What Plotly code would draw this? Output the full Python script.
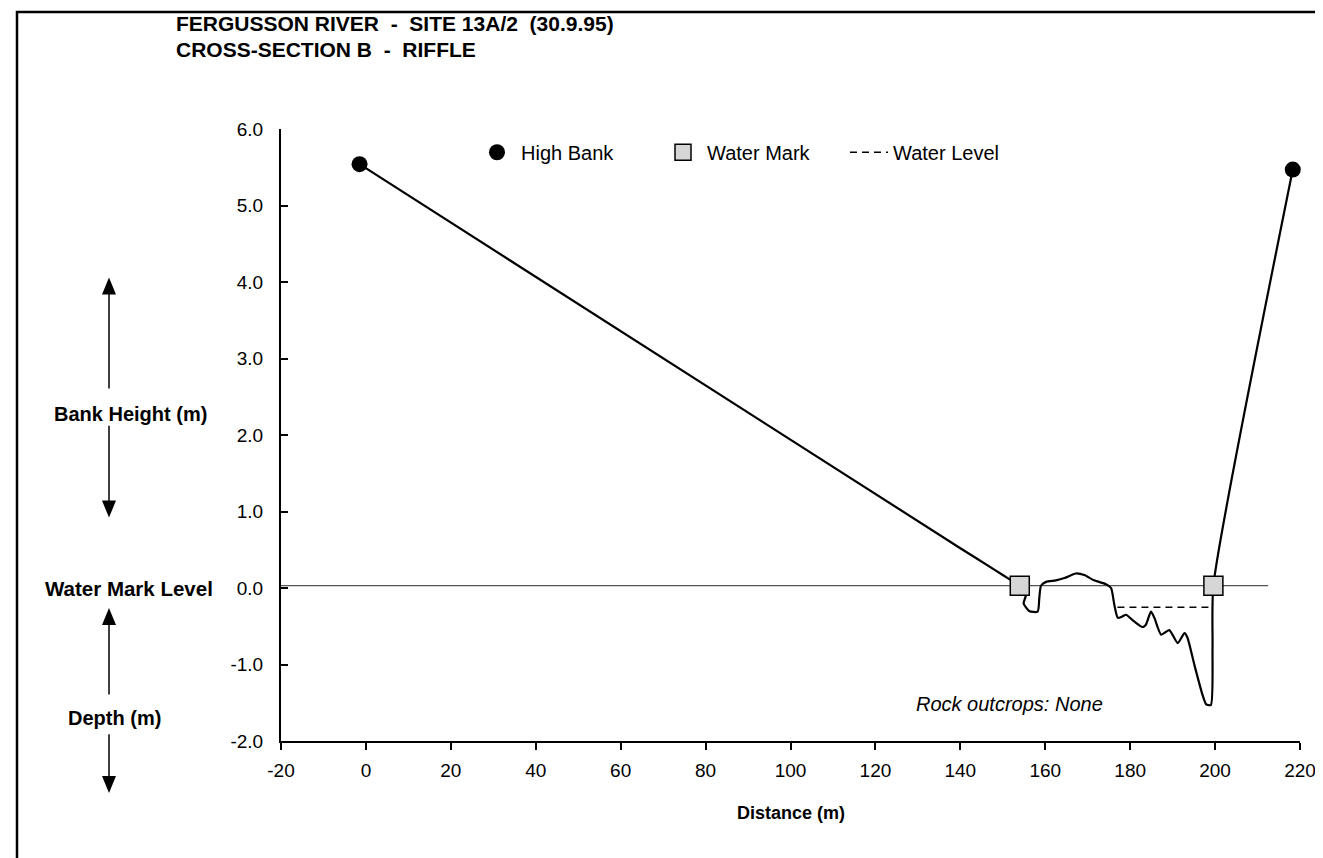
import plotly.graph_objects as go

# 断面测量 (m)
dist = [-1.5, 140, 148, 152, 154, 155.4, 154.9, 156.2, 158.2, 158.6, 159.0, 160.2, 162.5, 164.5,
        167.2, 169.2, 171.5, 174.3, 175.5, 176.3, 177.1, 178.2, 179.0, 181.0, 182.9, 183.7, 184.9,
        185.7, 187.3, 189.2, 191.2, 192.8, 193.5, 195.1, 197.0, 197.9, 199.0, 199.4, 199.6, 218.3]
elev = [5.54, 0.52, 0.24, 0.10, 0.03, -0.10, -0.20, -0.30, -0.31, -0.13, 0.03, 0.08, 0.10, 0.13,
        0.19, 0.17, 0.10, 0.05, 0.0, -0.23, -0.39, -0.37, -0.35, -0.44, -0.51, -0.48, -0.31,
        -0.39, -0.61, -0.55, -0.72, -0.59, -0.65, -1.00, -1.39, -1.52, -1.53, -0.78, 0.03, 5.47]
bank_x = [-1.5, 218.3]
bank_y = [5.54, 5.47]
mark_x = [154.0, 199.6]
mark_y = [0.03, 0.03]
level_x = [177.0, 199.0]
level_y = [-0.25, -0.25]
ref_x = [-20, 212.5]
ref_y = [0.03, 0.03]
x_ticks = list(range(-20, 221, 20))
x_labels = ['-20', '0', '20', '40', '60', '80', '100', '120', '140', '160', '180', '200', '220']
y_ticks = [-2, -1, 0, 1, 2, 3, 4, 5, 6]
y_labels = ['-2.0', '-1.0', '0.0', '1.0', '2.0', '3.0', '4.0', '5.0', '6.0']

FONT = 'Liberation Sans, Arial, sans-serif'
PW, PH = 1019, 612   # 绘图区像素

fig = go.Figure()
fig.add_trace(go.Scatter(x=ref_x, y=ref_y, mode='lines', line=dict(color='#555555', width=1.2),
                         showlegend=False, hoverinfo='skip'))
fig.add_trace(go.Scatter(x=dist, y=elev, mode='lines', line=dict(color='black', width=2.2,
                         shape='spline', smoothing=0.6), showlegend=False))
fig.add_trace(go.Scatter(x=level_x, y=level_y, mode='lines', name='Water Level',
                         line=dict(color='black', width=1.5, dash='7px,5px'), legendrank=3))
fig.add_trace(go.Scatter(x=bank_x, y=bank_y, mode='markers', name='High Bank', legendrank=1,
                         marker=dict(symbol='circle', size=16, color='black'), cliponaxis=False))
fig.add_trace(go.Scatter(x=mark_x, y=mark_y, mode='markers', name='Water Mark', legendrank=2,
                         marker=dict(symbol='square', size=19, color='#d6d6d6',
                                     line=dict(color='black', width=1.5)), cliponaxis=False))

ann = []
# 标题
ann.append(dict(text='<b>FERGUSSON RIVER&nbsp; -&nbsp; SITE 13A/2&nbsp; (30.9.95)</b>', x=(166 - 273) / PW,
                y=(733 - 16) / PH, xanchor='left', font=dict(size=21)))
ann.append(dict(text='<b>CROSS-SECTION B&nbsp; -&nbsp; RIFFLE</b>', x=(166 - 273) / PW,
                y=(733 - 41) / PH, xanchor='left', font=dict(size=21)))
# 左侧说明
ann.append(dict(text='<b>Bank Height (m)</b>', x=(122 - 273) / PW, y=0.535, font=dict(size=20)))
ann.append(dict(text='<b>Water Mark Level</b>', x=(121 - 273) / PW, y=0.25, font=dict(size=20.5)))
ann.append(dict(text='<b>Depth (m)</b>', x=(106 - 273) / PW, y=0.0375, font=dict(size=20)))
ann.append(dict(text='<b>Distance (m)</b>', x=0.5, y=(733 - 805) / PH, font=dict(size=18)))
ann.append(dict(text='<i>Rock outcrops: None</i>', x=(174 + 20) / 240, y=(-1.52 + 2) / 8,
                xanchor='right', font=dict(size=20)))
for a in ann:
    a.update(xref='paper', yref='paper', showarrow=False)
    a.setdefault('xanchor', 'center')
    a.setdefault('yanchor', 'middle')

shapes = [dict(type='rect', xref='paper', yref='paper', x0=(9 - 273) / PW, x1=(1315 - 273) / PW,
               y0=-0.3, y1=(733 - 4) / PH, line=dict(color='black', width=2.5), layer='below')]
# 箭头: (x像素, 尾 y, 尖 y) 纸坐标
arrows = [(101, 0.576, 0.7575), (101, 0.515, 0.365), (101, 0.076, 0.2175), (101, 0.011, -0.085)]
hw, hh = 7 / PW, 17 / PH
for xp, yt, yh in arrows:
    xc = (xp - 273) / PW
    d = 1 if yh > yt else -1
    shapes.append(dict(type='line', xref='paper', yref='paper', x0=xc, x1=xc, y0=yt, y1=yh - d * hh * 0.8,
                       line=dict(color='black', width=1.5)))
    shapes.append(dict(type='path', xref='paper', yref='paper', fillcolor='black', line=dict(width=0),
                       path='M %f,%f L %f,%f L %f,%f Z' % (xc - hw, yh - d * hh, xc + hw, yh - d * hh, xc, yh)))

axis_common = dict(showline=True, linecolor='black', linewidth=2, showgrid=False, zeroline=False,
                   tickcolor='black', tickwidth=2, ticklen=7, tickfont=dict(size=19))
fig.update_layout(
    width=1323, height=858, margin=dict(l=273, r=31, t=121, b=125),
    paper_bgcolor='white', plot_bgcolor='white',
    font=dict(family=FONT, color='black'),
    xaxis=dict(range=[-20, 220], tickvals=x_ticks, ticktext=x_labels, ticks='outside',
               ticklabelstandoff=4, **axis_common),
    yaxis=dict(range=[-2, 6], tickvals=y_ticks, ticktext=y_labels, ticks='inside',
               ticklabelstandoff=12, **axis_common),
    legend=dict(orientation='h', x=(485 - 20 - 273) / PW, y=0.962, xanchor='left', yanchor='middle',
                font=dict(size=20), itemwidth=38, entrywidth=133, bgcolor='rgba(0,0,0,0)',
                traceorder='normal'),
    annotations=ann, shapes=shapes, showlegend=True,
)
fig.write_html('out.html')
